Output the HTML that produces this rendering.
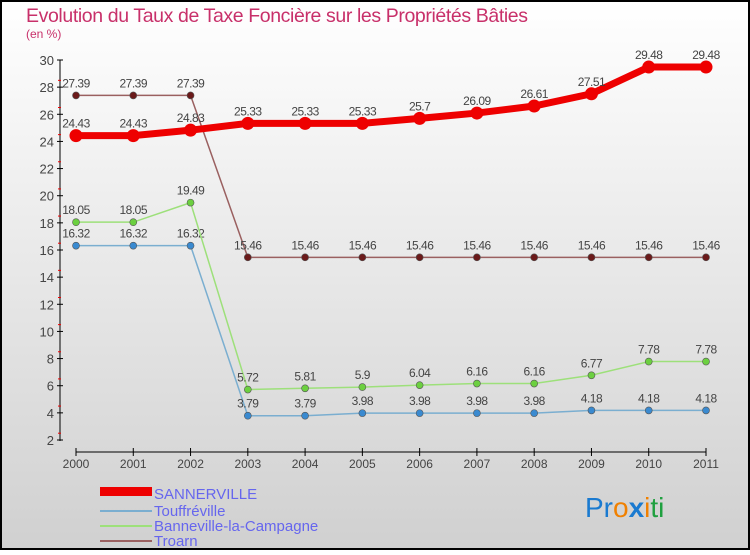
<!DOCTYPE html>
<html><head><meta charset="utf-8"><style>
body{margin:0;width:750px;height:550px;overflow:hidden;font-family:"Liberation Sans",sans-serif}
</style></head><body>
<svg width="750" height="550" xmlns="http://www.w3.org/2000/svg">
<defs><linearGradient id="bg" x1="0" y1="0" x2="0" y2="1"><stop offset="0" stop-color="#ffffff"/><stop offset="1" stop-color="#d0d0d0"/></linearGradient></defs>
<rect x="1" y="1" width="748" height="548" fill="url(#bg)" stroke="#000" stroke-width="2"/>
<text x="26" y="22" font-size="19.5" fill="#c8306a" textLength="502">Evolution du Taux de Taxe Foncière sur les Propriétés Bâties</text>
<text x="26" y="38" font-size="12" fill="#c8306a">(en %)</text>
<g id="axes"></g><g id="series"></g>
<g>
<rect x="100" y="487" width="52" height="9" fill="#e00"/>
<text x="154" y="499" font-size="15" fill="#6666ee">SANNERVILLE</text>
<line x1="100" y1="511" x2="152" y2="511" stroke="#7aaed0" stroke-width="2"/>
<text x="154" y="516" font-size="15" fill="#6666ee">Touffréville</text>
<line x1="100" y1="526" x2="152" y2="526" stroke="#9de07a" stroke-width="2"/>
<text x="154" y="531" font-size="15" fill="#6666ee">Banneville-la-Campagne</text>
<line x1="100" y1="541" x2="152" y2="541" stroke="#9a6060" stroke-width="2"/>
<text x="154" y="546" font-size="15" fill="#6666ee">Troarn</text>
</g>
<text x="585" y="517" font-size="28"><tspan fill="#1a7ad0">Pr</tspan><tspan fill="#f08000">o</tspan><tspan fill="#1a7ad0" font-weight="bold">x</tspan><tspan fill="#f08000">i</tspan><tspan fill="#20a040">ti</tspan></text>
</svg>
<script>
const years=[2000,2001,2002,2003,2004,2005,2006,2007,2008,2009,2010,2011];
const yTicks=[2,4,6,8,10,12,14,16,18,20,22,24,26,28,30];
const sannerville=[24.43,24.43,24.83,25.33,25.33,25.33,25.7,26.09,26.61,27.51,29.48,29.48];
const touffreville=[16.32,16.32,16.32,3.79,3.79,3.98,3.98,3.98,3.98,4.18,4.18,4.18];
const banneville=[18.05,18.05,19.49,5.72,5.81,5.9,6.04,6.16,6.16,6.77,7.78,7.78];
const troarn=[27.39,27.39,27.39,15.46,15.46,15.46,15.46,15.46,15.46,15.46,15.46,15.46];
const NS="http://www.w3.org/2000/svg";
const xs=i=>76+i*(630/(years.length-1));
const ys=v=>440-(v-2)*(380/28);
function mk(t,a,p){const e=document.createElementNS(NS,t);for(const k in a)e.setAttribute(k,a[k]);p.appendChild(e);return e;}
const ax=document.getElementById('axes');
mk('line',{x1:60,y1:60,x2:60,y2:441,stroke:'#000'},ax);
yTicks.forEach(v=>{const y=ys(v);
mk('line',{x1:57,y1:y,x2:63,y2:y,stroke:'#000'},ax);
if(v<30)mk('line',{x1:58,y1:y-6.8,x2:61,y2:y-6.8,stroke:'#e00'},ax);
const t=mk('text',{x:54,y:y+5,'font-size':13,fill:'#444','text-anchor':'end'},ax);t.textContent=v;

});
mk('line',{x1:76,y1:452,x2:706,y2:452,stroke:'#000'},ax);
years.forEach((yr,i)=>{const x=xs(i);
mk('line',{x1:x,y1:448,x2:x,y2:456,stroke:'#000'},ax);
const t=mk('text',{x:x,y:468,'font-size':12,fill:'#444','text-anchor':'middle'},ax);t.textContent=yr;

});
const sg=document.getElementById('series');
function draw(data,color,dot,w,r,name){
const g=mk('g',{},sg);


mk('polyline',{points:data.map((v,i)=>xs(i)+','+ys(v)).join(' '),fill:'none',stroke:color,'stroke-width':w},g);
data.forEach((v,i)=>{
const c=mk('circle',{cx:xs(i),cy:ys(v),r:r,fill:dot,stroke:dot==='#e00'?'none':'#555','stroke-width':0.6},g);


const t=mk('text',{x:xs(i),y:ys(v)-8,'font-size':12,fill:'#444','text-anchor':'middle','letter-spacing':'-0.5'},g);
t.textContent=v;

});
}
draw(troarn,'#9a6060','#6b1a1a',1.5,3.5,'series-troarn');
draw(touffreville,'#7aaed0','#3a8ad0',1.5,3.5,'series-touffreville');
draw(banneville,'#9de07a','#6cd040',1.5,3.5,'series-banneville');
draw(sannerville,'#e00','#e00',7,6.5,'series-sannerville');
</script>
</body></html>
